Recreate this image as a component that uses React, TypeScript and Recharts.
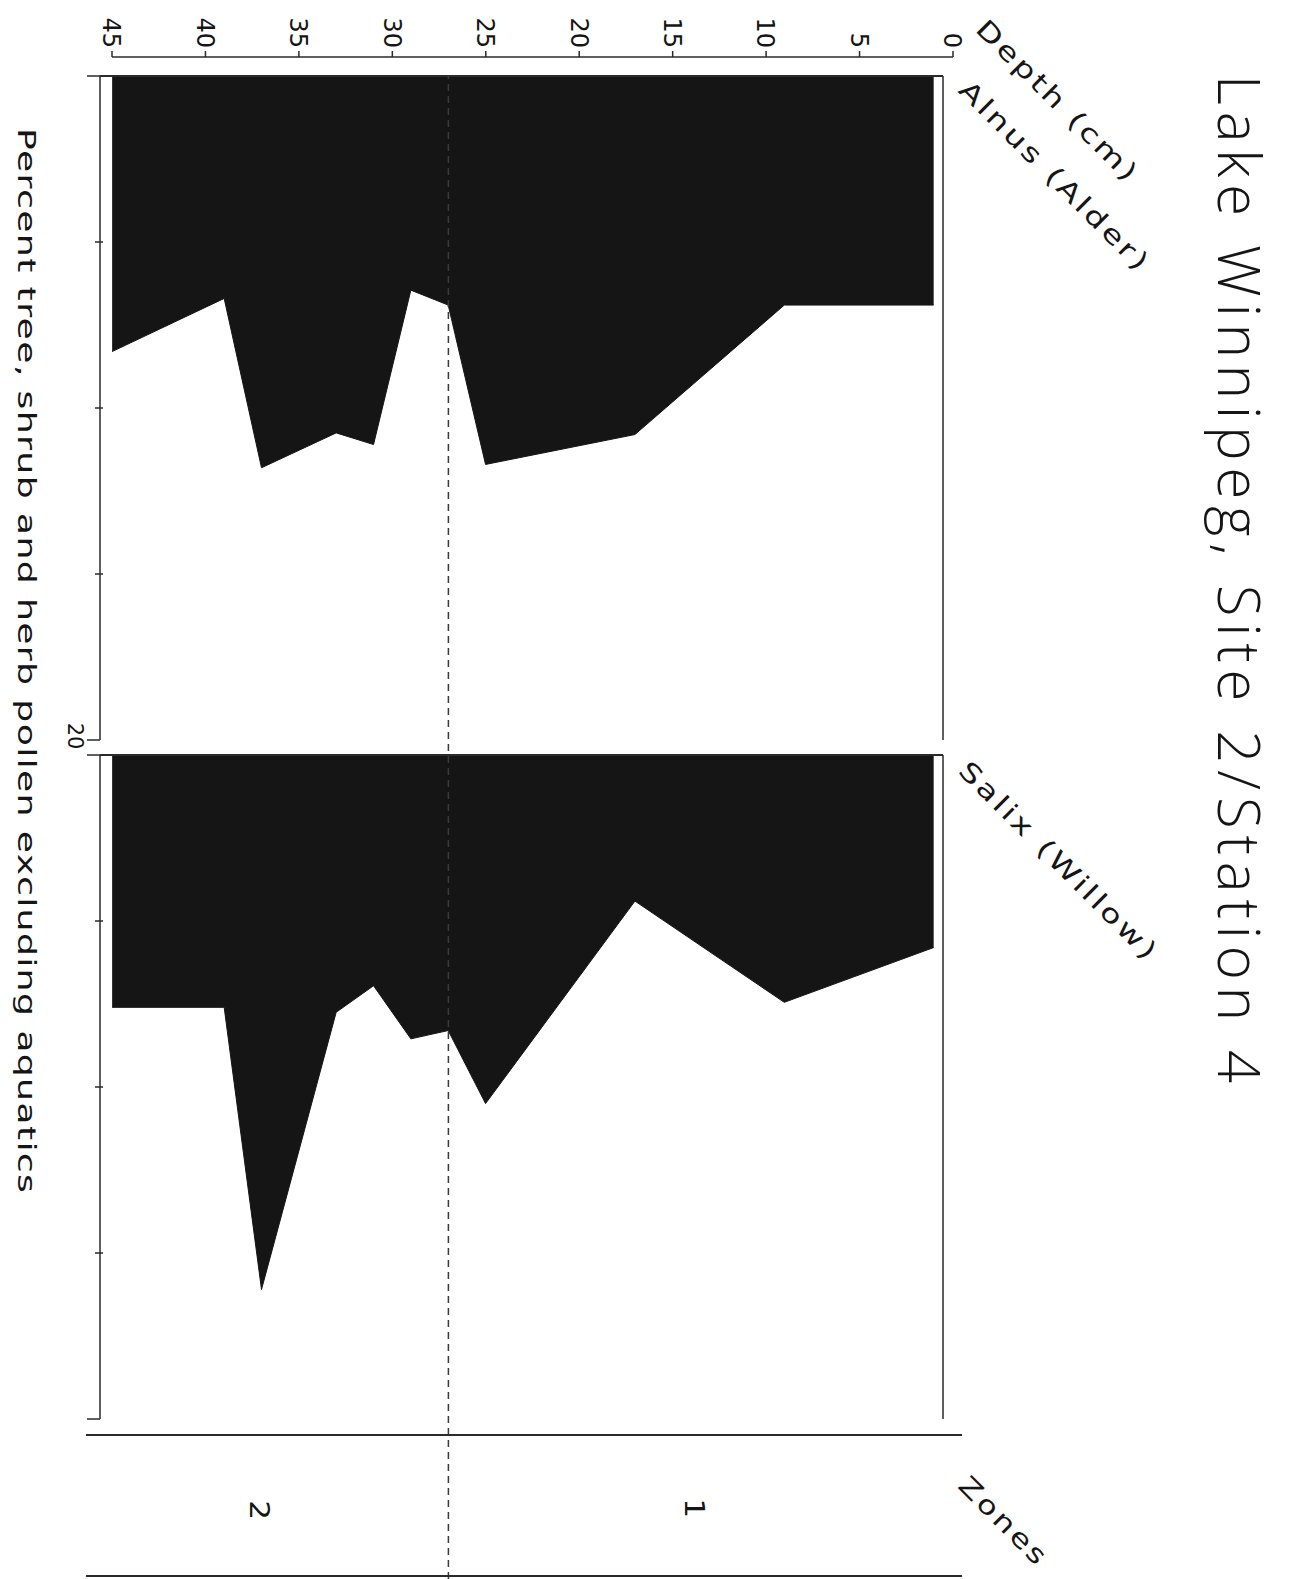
import React from 'react';
import { AreaChart, Area, XAxis, YAxis, ReferenceLine, ComposedChart, LineChart, Line } from 'recharts';

// ---- data ----
const DEPTHS = [1, 9, 17, 25, 27, 29, 31, 33, 37, 39, 45];
const ALNUS = [6.9, 6.9, 10.8, 11.7, 6.9, 6.45, 11.1, 10.75, 11.8, 6.7, 8.3];
const SALIX = [5.8, 7.45, 4.4, 10.5, 8.3, 8.55, 6.95, 7.75, 16.1, 7.6, 7.6];
const DEPTH_TICKS = [0, 5, 10, 15, 20, 25, 30, 35, 40, 45];
const PERCENT_TICKS = [0, 5, 10, 15, 20];
const DEPTH_DOMAIN: [number, number] = [0, 45];
const PANEL_DEPTH_DOMAIN: [number, number] = [0.5, 45.65];
const PERCENT_DOMAIN: [number, number] = [0, 20];
const ZONE_BOUNDARY = 27;
const ZONE_LABELS = ['1', '2'];
const TITLE = 'Lake Winnipeg, Site 2/Station 4';
const DEPTH_LABEL = 'Depth (cm)';
const ALNUS_LABEL = 'Alnus (Alder)';
const SALIX_LABEL = 'Salix (Willow)';
const ZONES_LABEL = 'Zones';
const X_TITLE = 'Percent tree, shrub and herb pollen excluding aquatics';

const rows = DEPTHS.map((d, i) => ({ depth: d, alnus: ALNUS[i], salix: SALIX[i] }));

const INK = '#151515';
const LINE = '#2a2a2a';
const FONT = "'DejaVu Sans', 'Liberation Sans', Arial, sans-serif";

function DepthTick(props: any) {
  const { x, y, payload } = props;
  return (
    <g>
      <line x1={x} x2={x} y1={y} y2={y - 6} stroke={LINE} strokeWidth={1.5} />
      <text
        transform={`translate(${x},${y - 9}) rotate(90)`}
        textAnchor="end"
        dy="0.36em"
        fontSize={24}
        fontFamily={FONT}
        fill={INK}
      >
        {payload.value}
      </text>
    </g>
  );
}

const makeLeftTick = (showMax: boolean) => (props: any) => {
  const { x, y, payload } = props;
  const v = payload.value;
  const isEnd = v === PERCENT_DOMAIN[0] || v === PERCENT_DOMAIN[1];
  return (
    <g>
      <line x1={isEnd ? x - 13 : x - 5} x2={isEnd ? x : x + 3} y1={y} y2={y} stroke={LINE} strokeWidth={1.5} />
      {showMax && v === PERCENT_DOMAIN[1] ? (
        <text
          transform={`translate(${x - 24},${y - 4}) rotate(90)`}
          textAnchor="middle"
          dy="0.36em"
          fontSize={21}
          fontFamily={FONT}
          fill={INK}
        >
          {v}
        </text>
      ) : null}
    </g>
  );
};

function RightTick(props: any) {
  const { x, y, payload } = props;
  const v = payload.value;
  if (v === PERCENT_DOMAIN[0]) {
    return <line x1={x} x2={x + 17} y1={y} y2={y} stroke={LINE} strokeWidth={2} />;
  }
  if (v === PERCENT_DOMAIN[1]) {
    return <line x1={x - 4} x2={x} y1={y} y2={y} stroke={LINE} strokeWidth={1.5} />;
  }
  return <line x1={x - 4} x2={x + 3} y1={y} y2={y} stroke={LINE} strokeWidth={1.5} />;
}

function Panel({ dataKey, top, height, marginTop, marginBottom, showMax }: any) {
  return (
    <div style={{ position: 'absolute', left: 0, top }}>
      <AreaChart
        width={1300}
        height={height}
        data={rows}
        margin={{ top: marginTop, bottom: marginBottom, left: 70, right: 327 }}
      >
        <XAxis dataKey="depth" type="number" domain={PANEL_DEPTH_DOMAIN} reversed hide />
        <YAxis
          yAxisId="l"
          orientation="left"
          width={30}
          type="number"
          domain={PERCENT_DOMAIN}
          ticks={PERCENT_TICKS}
          reversed
          interval={0}
          tickSize={0}
          tickMargin={0}
          tickLine={false}
          axisLine={{ stroke: LINE, strokeWidth: 1.5 }}
          tick={makeLeftTick(showMax)}
        />
        <YAxis
          yAxisId="r"
          orientation="right"
          width={30}
          type="number"
          domain={PERCENT_DOMAIN}
          ticks={PERCENT_TICKS}
          reversed
          interval={0}
          tickSize={0}
          tickMargin={0}
          tickLine={false}
          axisLine={{ stroke: LINE, strokeWidth: 1.5 }}
          tick={RightTick}
        />
        <Area
          yAxisId="l"
          type="linear"
          dataKey={dataKey}
          stroke={INK}
          strokeWidth={1}
          fill={INK}
          fillOpacity={1}
          dot={false}
          activeDot={false}
          isAnimationActive={false}
        />
        <ReferenceLine yAxisId="l" y={0} stroke={LINE} strokeWidth={2} />
      </AreaChart>
    </div>
  );
}

// label helper: text stretched along its reading direction (wide plotter-like lettering)
function Label({ x, y, angle, size, stretch, length, anchor = 'middle', center = true, children, family }: any) {
  return (
    <text
      transform={`translate(${x},${y}) rotate(${angle}) scale(${stretch},1)`}
      textAnchor={anchor}
      dy={center ? '0.36em' : undefined}
      fontSize={size}
      fontFamily={family || FONT}
      fill={INK}
      textLength={length ? length / stretch : undefined}
      lengthAdjust={length ? 'spacing' : undefined}
    >
      {children}
    </text>
  );
}

export default function App() {
  return (
    <div
      style={{
        position: 'absolute',
        left: 0,
        top: 0,
        width: 1300,
        height: 1579,
        background: '#fff',
        overflow: 'hidden',
      }}
    >
      <Panel dataKey="alnus" top={0} height={750} marginTop={76} marginBottom={10} showMax />
      <Panel dataKey="salix" top={745} height={690} marginTop={10} marginBottom={16} showMax={false} />

      {/* zone boundary (dashed), spanning both panels and the zone band */}
      <div style={{ position: 'absolute', left: 0, top: 0 }}>
        <ComposedChart
          width={1300}
          height={1579}
          data={rows}
          margin={{ top: 76, left: 112, right: 347, bottom: 0 }}
        >
          <XAxis dataKey="depth" type="number" domain={DEPTH_DOMAIN} reversed hide />
          <YAxis type="number" domain={PERCENT_DOMAIN} hide />
          <Line dataKey="alnus" stroke="none" dot={false} activeDot={false} isAnimationActive={false} />
          <ReferenceLine x={ZONE_BOUNDARY} stroke="#3a3a3a" strokeWidth={1.5} strokeDasharray="7 5" />
        </ComposedChart>
      </div>

      {/* depth axis */}
      <div style={{ position: 'absolute', left: 0, top: 0 }}>
        <LineChart width={1300} height={60} data={rows} margin={{ top: 0, left: 112, right: 347, bottom: 0 }}>
          <XAxis
            dataKey="depth"
            type="number"
            orientation="top"
            height={57}
            domain={DEPTH_DOMAIN}
            ticks={DEPTH_TICKS}
            reversed
            interval={0}
            tickSize={0}
            tickMargin={0}
            tickLine={false}
            axisLine={{ stroke: LINE, strokeWidth: 1.5 }}
            tick={DepthTick}
          />
          <YAxis hide />
        </LineChart>
      </div>

      {/* annotations */}
      <svg
        width={1300}
        height={1579}
        style={{ position: 'absolute', left: 0, top: 0, pointerEvents: 'none' }}
      >
        <text
          transform="translate(1218,75) rotate(90)"
          fontSize={58}
          fontFamily="'Open Sans', 'Liberation Sans', sans-serif"
          fontWeight={300}
          fill={INK}
          textLength={1008}
          lengthAdjust="spacing"
        >
          {TITLE}
        </text>
        <Label x={1057} y={100} angle={45} size={26} stretch={1.3} length={215}>{DEPTH_LABEL}</Label>
        <Label x={1054} y={175} angle={45} size={26} stretch={1.3} length={255}>{ALNUS_LABEL}</Label>
        <Label x={1058} y={860} angle={45} size={26} stretch={1.3} length={267}>{SALIX_LABEL}</Label>
        <Label x={1003} y={1520} angle={45} size={26} stretch={1.25} length={112}>{ZONES_LABEL}</Label>
        <Label x={18} y={128} angle={90} size={25} stretch={1.45} length={1065} anchor="start" center={false}>
          {X_TITLE}
        </Label>
        {/* zone band */}
        <line x1={86} x2={962} y1={1435} y2={1435} stroke={LINE} strokeWidth={2} />
        <line x1={86} x2={962} y1={1576} y2={1576} stroke={LINE} strokeWidth={2} />
        <Label x={695} y={1508} angle={90} size={27} stretch={1.15}>{ZONE_LABELS[0]}</Label>
        <Label x={260} y={1510} angle={90} size={27} stretch={1.15}>{ZONE_LABELS[1]}</Label>
      </svg>
    </div>
  );
}
